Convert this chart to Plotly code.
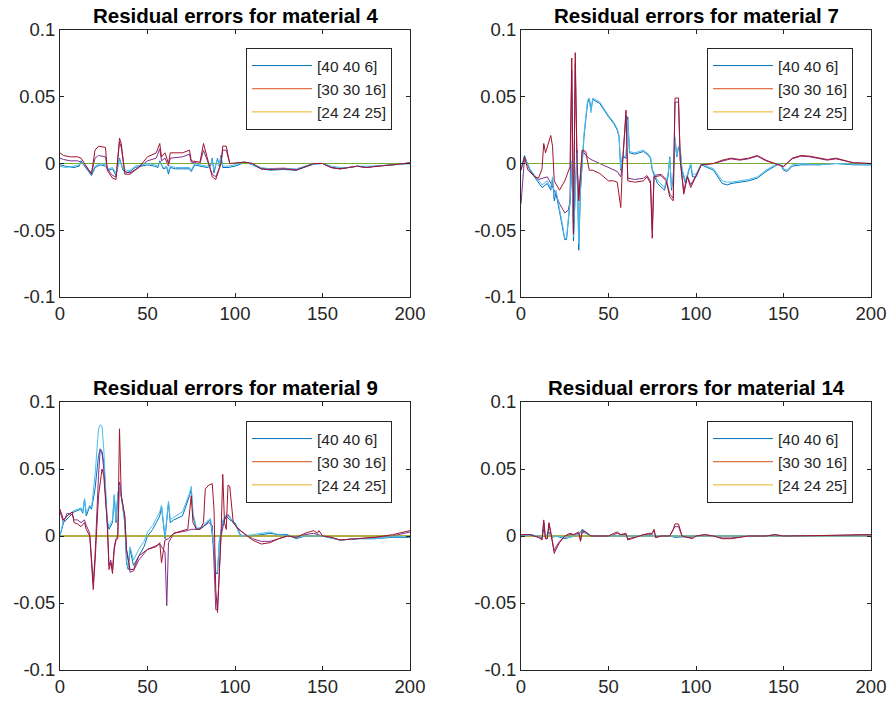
import plotly.graph_objects as go

# ---------------- data ----------------
LEGEND_NAMES = ["[40 40 6]", "[30 30 16]", "[24 24 25]"]
TITLES = ["Residual errors for material 4", "Residual errors for material 7",
          "Residual errors for material 9", "Residual errors for material 14"]
X_TICKS = [0, 50, 100, 150, 200]
Y_TICKS = [-0.1, -0.05, 0, 0.05, 0.1]
Y_TICK_TEXT = ["-0.1", "-0.05", "0", "0.05", "0.1"]

ZERO_X = [0, 200]
ZERO_Y = [0, 0]

# material 4
M4_BLUE = [(0,-0.001),(3,-0.002),(8,-0.003),(11,-0.002),(12,0.002),(14,-0.002),(16,-0.005),(18,-0.009),(20,-0.003),(23,-0.001),(26,-0.002),(28,-0.005),(30,-0.004),(32,-0.009),(34,0.004),(36,-0.005),(38,-0.007),(40,-0.006),(43,-0.003),(46,-0.002),(50,-0.001),(54,-0.002),(56,-0.003),(57,0.002),(59,-0.004),(61,-0.003),(62,-0.008),(63,-0.003),(66,-0.004),(70,-0.004),(74,-0.004),(75,-0.006),(77,-0.001),(80,-0.002),(84,-0.003),(86,-0.002),(87,0.004),(88,-0.007),(89,-0.002),(90,0.004),(91,-0.002),(92,0.006),(93,-0.003),(96,-0.003),(100,-0.002),(104,0.0),(106,0.001),(110,-0.001),(115,-0.004),(120,-0.005),(128,-0.0045),(135,-0.005),(140,-0.003),(145,-0.0005),(150,0.0),(155,-0.003),(160,-0.004),(165,-0.003),(170,-0.002),(175,-0.003),(180,-0.002),(190,-0.001),(200,0.0)]
M4_LBLUE = [(0,-0.002),(3,-0.003),(8,-0.002),(11,-0.001),(12,0.001),(14,-0.001),(16,-0.004),(18,-0.007),(20,-0.002),(23,0.0),(26,-0.001),(28,-0.004),(30,-0.003),(32,-0.007),(34,0.003),(36,-0.004),(38,-0.005),(40,-0.005),(43,-0.002),(46,-0.001),(50,0.0),(54,-0.001),(56,-0.002),(57,0.001),(59,-0.003),(61,-0.002),(62,-0.006),(63,-0.002),(66,-0.003),(70,-0.003),(74,-0.003),(75,-0.005),(77,0.0),(80,-0.001),(84,-0.002),(86,-0.001),(87,0.003),(88,-0.005),(89,-0.001),(90,0.003),(91,-0.001),(92,0.005),(93,-0.002),(96,-0.002),(100,-0.001),(104,0.001),(106,0.001),(110,-0.001),(115,-0.003),(120,-0.004),(128,-0.004),(135,-0.004),(140,-0.002),(145,0.0),(150,0.0),(155,-0.002),(160,-0.003),(165,-0.003),(170,-0.002),(175,-0.002),(180,-0.002),(190,-0.001),(200,0.0)]
M4_PURPLE = [(0,0.004),(2,0.003),(6,0.002),(10,0.002),(12,0.001),(15,-0.003),(18,-0.007),(20,0.004),(22,0.006),(26,0.005),(27,-0.004),(30,-0.009),(32,-0.010),(34,0.016),(35,0.012),(37,-0.006),(40,-0.007),(45,-0.003),(50,0.002),(55,0.004),(57,0.011),(58,0.002),(60,0.004),(62,-0.002),(63,0.004),(70,0.005),(74,0.007),(75,0.001),(80,0.0),(82,0.010),(84,0.003),(87,-0.008),(89,-0.010),(92,0.0),(93,0.010),(95,0.010),(97,0.0),(100,0.0),(105,0.001),(110,0.0),(115,-0.004),(120,-0.004),(128,-0.0035),(135,-0.0045),(140,-0.002),(145,0.0),(150,0.0),(155,-0.003),(160,-0.004),(165,-0.003),(170,-0.002),(175,-0.003),(180,-0.002),(190,-0.001),(200,0.0005)]
M4_RED = [(0,0.008),(2,0.006),(6,0.005),(10,0.005),(12,0.004),(15,-0.0025),(18,-0.008),(20,0.010),(22,0.013),(26,0.012),(27,-0.005),(30,-0.011),(32,-0.012),(34,0.019),(35,0.015),(37,-0.008),(40,-0.008),(45,-0.003),(50,0.005),(55,0.008),(57,0.015),(58,0.005),(60,0.008),(62,0.0),(63,0.008),(70,0.008),(74,0.010),(75,0.002),(80,0.001),(82,0.015),(84,0.005),(87,-0.010),(89,-0.012),(92,0.0),(93,0.013),(95,0.013),(97,0.0),(100,0.0005),(105,0.001),(110,0.0),(115,-0.004),(120,-0.0045),(128,-0.004),(135,-0.005),(140,-0.0025),(145,0.0),(150,0.0),(155,-0.003),(160,-0.004),(165,-0.003),(170,-0.002),(175,-0.003),(180,-0.0025),(190,-0.001),(200,0.0005)]

# material 7
M7_BLUE = [(0,-0.005),(2,0.006),(5,-0.005),(10,-0.015),(12,-0.018),(15,-0.015),(17,-0.020),(18,-0.012),(19,-0.028),(20,-0.022),(22,-0.035),(24,-0.050),(25,-0.057),(26,-0.057),(28,-0.030),(29,0.0),(30,-0.058),(31,-0.020),(32,0.010),(33,-0.065),(34,-0.020),(36,0.020),(38,0.045),(39,0.049),(40,0.040),(41,0.048),(45,0.045),(50,0.035),(53,0.030),(55,0.025),(56,0.020),(57,-0.005),(58,0.005),(60,0.004),(61,0.035),(62,0.008),(65,0.007),(70,0.009),(72,0.007),(74,0.004),(75,-0.005),(78,-0.015),(82,-0.020),(84,-0.010),(85,0.005),(86,-0.020),(87,-0.010),(88,0.018),(89,0.005),(90,0.012),(91,0.010),(92,-0.005),(94,-0.015),(96,-0.005),(97,-0.001),(98,-0.010),(100,-0.010),(103,-0.001),(110,-0.005),(115,-0.015),(118,-0.016),(120,-0.015),(130,-0.013),(135,-0.011),(140,-0.006),(145,-0.002),(148,0.0),(150,-0.005),(152,-0.006),(155,-0.002),(160,-0.001),(170,-0.001),(180,0.0),(190,-0.001),(200,-0.001)]
M7_LBLUE = [(0,-0.004),(2,0.005),(5,-0.004),(10,-0.013),(12,-0.016),(15,-0.013),(17,-0.018),(18,-0.010),(19,-0.025),(20,-0.020),(22,-0.033),(24,-0.048),(25,-0.056),(26,-0.056),(28,-0.028),(29,0.002),(30,-0.055),(31,-0.018),(32,0.008),(33,-0.060),(34,-0.018),(36,0.022),(38,0.047),(39,0.049),(40,0.038),(41,0.049),(45,0.046),(50,0.036),(53,0.031),(55,0.026),(56,0.021),(57,-0.004),(58,0.006),(60,0.005),(61,0.033),(62,0.009),(65,0.008),(70,0.010),(72,0.008),(74,0.005),(75,-0.004),(78,-0.013),(82,-0.018),(84,-0.008),(85,0.004),(86,-0.018),(87,-0.008),(88,0.020),(89,0.006),(90,0.013),(91,0.011),(92,-0.004),(94,-0.013),(96,-0.004),(97,0.0),(98,-0.008),(100,-0.008),(103,0.0),(110,-0.004),(115,-0.013),(118,-0.014),(120,-0.014),(130,-0.012),(135,-0.010),(140,-0.005),(145,-0.001),(148,0.0),(150,-0.004),(152,-0.005),(155,-0.001),(160,0.0),(170,-0.001),(180,0.0),(190,-0.0005),(200,-0.001)]
M7_PURPLE = [(0,-0.030),(2,0.004),(5,-0.004),(8,-0.010),(10,-0.012),(15,-0.010),(18,-0.017),(22,-0.030),(25,-0.037),(27,-0.035),(28,-0.028),(29,0.070),(30,-0.050),(31,0.075),(32,0.0),(33,-0.025),(35,0.010),(37,0.006),(40,0.003),(45,0.0),(50,-0.003),(53,-0.005),(55,-0.006),(57,-0.010),(58,0.0),(60,0.036),(61,-0.011),(65,-0.012),(70,-0.011),(72,-0.009),(74,-0.013),(75,-0.050),(76,-0.009),(80,-0.008),(83,-0.012),(85,-0.023),(87,-0.026),(88,0.046),(90,0.046),(91,0.002),(93,-0.021),(95,-0.009),(97,-0.016),(100,-0.009),(103,-0.001),(110,0.0),(115,0.002),(120,0.0035),(125,0.0025),(130,0.0035),(135,0.0055),(140,0.002),(145,0.0),(150,-0.002),(155,0.0035),(160,0.0055),(165,0.005),(170,0.004),(175,0.0025),(180,0.0035),(185,0.002),(190,0.0005),(200,0.0)]
M7_RED = [(0,-0.005),(2,0.005),(4,-0.005),(8,-0.010),(10,-0.011),(12,-0.004),(13,0.015),(14,0.008),(17,0.021),(18,0.013),(19,-0.013),(22,-0.020),(25,-0.013),(28,-0.0025),(29,0.079),(30,-0.053),(31,0.083),(32,0.0025),(33,-0.028),(35,0.010),(37,0.009),(39,-0.005),(41,-0.005),(45,-0.0075),(50,-0.013),(53,-0.013),(55,-0.014),(57,-0.033),(58,0.0),(60,0.040),(61,-0.013),(65,-0.014),(70,-0.013),(72,-0.010),(74,-0.015),(75,-0.056),(76,-0.010),(80,-0.009),(83,-0.013),(85,-0.025),(87,-0.028),(88,0.049),(90,0.049),(91,0.0025),(93,-0.023),(95,-0.010),(97,-0.018),(100,-0.010),(103,-0.001),(110,0.0),(115,0.0025),(120,0.004),(125,0.003),(130,0.004),(135,0.006),(140,0.0025),(145,0.0),(150,-0.0025),(155,0.004),(160,0.006),(165,0.0055),(170,0.0045),(175,0.003),(180,0.004),(185,0.0025),(190,0.0005),(200,0.0)]

# material 9
M9_BLUE = [(0,0.0),(2,0.010),(5,0.014),(8,0.018),(12,0.020),(13,0.017),(14,0.027),(15,0.015),(17,0.022),(18,0.020),(20,0.035),(22,0.060),(23,0.065),(24,0.063),(25,0.055),(26,0.035),(27,0.010),(28,0.005),(30,0.010),(31,0.030),(32,0.010),(33,0.030),(34,0.040),(35,0.030),(37,0.010),(38,-0.020),(39,-0.025),(40,-0.010),(42,-0.022),(45,-0.015),(48,-0.008),(50,0.0),(53,0.005),(55,0.010),(57,0.015),(58,0.022),(59,0.010),(60,-0.002),(62,0.025),(63,0.010),(65,0.012),(70,0.015),(74,0.030),(75,0.035),(76,0.015),(78,0.005),(80,0.005),(82,0.007),(84,0.010),(86,0.012),(88,-0.010),(89,-0.028),(90,-0.028),(91,-0.005),(93,0.010),(95,0.015),(97,0.012),(100,0.010),(103,0.001),(105,0.0),(110,0.0),(115,0.001),(120,0.002),(125,0.001),(130,0.001),(135,-0.002),(140,0.0),(150,0.0),(160,-0.003),(170,-0.002),(180,-0.002),(190,-0.001),(200,-0.001)]
M9_LBLUE = [(0,0.0),(2,0.012),(5,0.016),(8,0.019),(12,0.021),(13,0.018),(14,0.028),(15,0.017),(17,0.023),(18,0.021),(20,0.045),(22,0.080),(23,0.083),(24,0.082),(25,0.065),(26,0.040),(27,0.012),(28,0.007),(30,0.012),(31,0.031),(32,0.012),(33,0.031),(34,0.038),(35,0.029),(37,0.012),(38,-0.018),(39,-0.024),(40,-0.008),(42,-0.018),(45,-0.010),(48,-0.004),(50,0.003),(53,0.008),(55,0.013),(57,0.018),(58,0.023),(59,0.012),(60,0.0),(62,0.026),(63,0.012),(65,0.014),(70,0.018),(74,0.032),(75,0.037),(76,0.017),(78,0.006),(80,0.006),(82,0.008),(84,0.011),(86,0.013),(88,-0.008),(89,-0.027),(90,-0.027),(91,-0.004),(93,0.012),(95,0.016),(97,0.014),(100,0.009),(103,0.0),(105,0.0),(110,0.001),(115,0.002),(120,0.003),(125,0.001),(130,0.0),(135,-0.001),(140,0.0),(150,0.0),(160,-0.003),(170,-0.002),(180,-0.002),(190,-0.0005),(200,-0.0005)]
M9_PURPLE = [(0,0.018),(2,0.010),(4,0.017),(7,0.016),(8,0.012),(10,0.012),(12,0.010),(14,0.012),(15,0.008),(17,0.002),(19,-0.035),(20,-0.015),(22,0.045),(23,0.065),(24,0.062),(25,0.050),(27,0.010),(28,-0.022),(29,-0.018),(30,-0.025),(31,-0.008),(32,-0.002),(33,0.0),(34,0.040),(35,0.030),(37,0.015),(38,-0.010),(40,-0.027),(42,-0.026),(45,-0.018),(50,-0.010),(55,-0.007),(57,-0.006),(59,-0.010),(60,-0.012),(61,-0.052),(62,-0.005),(65,0.002),(70,0.003),(73,0.004),(75,0.005),(78,0.005),(80,0.006),(83,0.008),(85,0.010),(87,0.008),(88,-0.020),(89,-0.055),(90,-0.055),(91,-0.025),(92,0.0),(94,0.012),(96,0.016),(98,0.012),(100,0.008),(105,0.002),(110,-0.002),(115,-0.004),(120,-0.004),(125,-0.002),(130,0.0),(135,-0.001),(140,0.001),(145,0.002),(150,0.0),(155,-0.001),(160,-0.003),(170,-0.002),(180,-0.001),(190,0.0),(200,0.003)]
M9_RED = [(0,0.020),(2,0.012),(4,0.015),(7,0.018),(8,0.010),(10,0.009),(12,0.007),(14,0.010),(15,0.005),(17,0.0),(19,-0.040),(20,-0.020),(22,0.030),(24,0.050),(25,0.045),(27,0.010),(28,-0.025),(29,-0.020),(30,-0.028),(31,-0.010),(32,-0.003),(33,-0.002),(34,0.080),(35,0.030),(37,0.015),(38,-0.010),(40,-0.025),(42,-0.025),(45,-0.015),(50,-0.010),(55,-0.008),(57,-0.005),(58,-0.020),(59,-0.010),(60,-0.003),(62,-0.002),(65,0.002),(70,0.004),(73,0.005),(75,0.030),(76,0.010),(78,0.005),(80,0.005),(82,0.010),(83,0.035),(85,0.038),(87,0.039),(88,0.020),(89,-0.040),(90,-0.057),(91,-0.030),(92,0.0),(93,0.046),(94,0.010),(95,0.005),(96,0.038),(97,0.037),(99,0.010),(102,0.005),(105,0.002),(110,-0.003),(115,-0.006),(120,-0.005),(125,-0.002),(130,0.0),(135,-0.001),(140,0.002),(145,0.004),(147,0.002),(148,0.004),(150,0.0),(155,-0.001),(160,-0.003),(170,-0.002),(180,-0.001),(190,0.001),(200,0.004)]

# material 14
M14_BLUE = [(0,0.0005),(5,0.001),(10,0.0),(12,-0.001),(13,0.005),(14,-0.001),(16,0.003),(17,0.0),(18,-0.001),(20,0.0),(25,-0.002),(28,-0.001),(30,0.0),(33,0.001),(35,0.005),(37,0.003),(40,0.0),(45,0.0),(50,0.0),(55,0.0),(60,0.0),(65,0.0),(70,0.0),(75,0.001),(77,-0.001),(80,0.0),(85,0.0),(88,-0.001),(90,-0.001),(95,-0.0005),(100,0.0),(110,0.0),(120,0.0),(130,0.0),(150,0.0),(170,0.0),(200,0.0005)]
M14_LBLUE = [(0,0.0),(5,0.0005),(10,0.0),(12,-0.0005),(13,0.003),(14,0.0),(16,0.002),(17,0.0),(18,-0.001),(20,0.0),(25,-0.001),(28,-0.001),(30,0.0),(33,0.001),(35,0.004),(37,0.002),(40,0.0),(45,0.0),(50,0.0),(55,0.0),(60,0.0),(65,0.0),(70,0.0),(75,0.0005),(77,0.0),(80,0.0),(85,0.0),(88,0.0),(90,0.0),(95,0.0),(100,0.0),(110,0.0),(120,0.0),(130,0.0),(150,0.0),(170,0.0),(200,0.0)]
M14_PURPLE = [(0,0.0005),(5,0.001),(10,-0.001),(12,-0.002),(13,0.010),(14,-0.002),(15,-0.002),(16,0.009),(17,0.002),(18,-0.004),(19,-0.011),(20,-0.008),(22,-0.004),(25,0.0),(28,0.001),(30,0.001),(33,0.002),(34,-0.003),(35,0.003),(37,0.002),(40,0.0),(45,0.0),(50,0.0),(53,0.001),(55,0.002),(57,0.001),(60,0.001),(61,-0.002),(65,-0.001),(70,0.001),(73,0.001),(75,0.002),(76,0.004),(77,-0.001),(80,0.0),(85,0.0),(87,0.004),(88,0.007),(90,0.007),(92,0.0),(95,-0.001),(98,-0.001),(100,0.0),(105,0.001),(110,0.0),(115,-0.0015),(120,-0.0015),(125,-0.001),(130,0.0),(140,0.0),(145,0.001),(150,0.0),(160,0.0),(180,0.0005),(200,0.001)]
M14_RED = [(0,0.001),(5,0.001),(10,-0.001),(12,-0.003),(13,0.012),(14,-0.002),(15,-0.002),(16,0.010),(17,0.003),(18,-0.005),(19,-0.013),(20,-0.010),(22,-0.005),(25,0.0),(28,0.002),(30,0.001),(33,0.003),(34,-0.004),(35,0.004),(37,0.003),(40,0.0),(45,0.0),(50,0.0),(53,0.002),(55,0.003),(57,0.001),(60,0.002),(61,-0.003),(65,-0.001),(70,0.001),(73,0.002),(75,0.002),(76,0.005),(77,-0.001),(80,0.0),(85,0.0),(87,0.005),(88,0.009),(90,0.009),(92,0.0),(95,-0.001),(98,-0.002),(100,0.0),(105,0.001),(110,0.0),(115,-0.002),(120,-0.002),(125,-0.001),(130,0.0),(140,0.0),(145,0.001),(150,0.0),(160,0.0),(180,0.0005),(200,0.001)]

PANELS = [
    (M4_BLUE, M4_PURPLE, M4_LBLUE, M4_RED),
    (M7_BLUE, M7_PURPLE, M7_LBLUE, M7_RED),
    (M9_BLUE, M9_PURPLE, M9_LBLUE, M9_RED),
    (M14_BLUE, M14_PURPLE, M14_LBLUE, M14_RED),
]

# MATLAB default colour order
C_BLUE, C_ORANGE, C_YELLOW, C_PURPLE = "#0072BD", "#D95319", "#EDB120", "#7E2F8E"
C_GREEN, C_LBLUE, C_DRED = "#77AC30", "#4DBEEE", "#A2142F"

# ---------------- layout geometry ----------------
W, H = 888, 702
X_DOMAINS = [(60 / W, 410 / W), (521 / W, 871 / W)]
Y_DOMAINS = [(1 - 297 / H, 1 - 30 / H), (1 - 670 / H, 1 - 402 / H)]
FONT = "Helvetica, Liberation Sans, Arial, sans-serif"
AX_COLOR = "#262626"


def unzip(pts):
    return [p[0] for p in pts], [p[1] for p in pts]


fig = go.Figure()
layout_extra = {}
annotations = []

for i, (blue, purple, lblue, dred) in enumerate(PANELS):
    row, col = divmod(i, 2)
    n = i + 1
    xa = "x" if n == 1 else f"x{n}"
    ya = "y" if n == 1 else f"y{n}"
    lg = "legend" if n == 1 else f"legend{n}"

    bx, by = unzip(blue)
    px, py = unzip(purple)
    lx, ly = unzip(lblue)
    rx, ry = unzip(dred)
    series = [
        (bx, by, C_BLUE, LEGEND_NAMES[0], True),
        (ZERO_X, ZERO_Y, C_ORANGE, LEGEND_NAMES[1], True),
        (ZERO_X, ZERO_Y, C_YELLOW, LEGEND_NAMES[2], True),
        (px, py, C_PURPLE, "s4", False),
        (ZERO_X, ZERO_Y, C_GREEN, "s5", False),
        (lx, ly, C_LBLUE, "s6", False),
        (rx, ry, C_DRED, "s7", False),
    ]
    for k, (sx, sy, c, name, show) in enumerate(series):
        fig.add_trace(go.Scatter(
            x=sx, y=sy, mode="lines", name=name, showlegend=show,
            legendgroup=f"p{n}s{k}",
            line=dict(color=c, width=1), xaxis=xa, yaxis=ya, legend=lg,
            hoverinfo="skip"))

    axis_common = dict(
        showline=True, linecolor=AX_COLOR, linewidth=1, mirror="ticks",
        ticks="inside", ticklen=4, tickcolor=AX_COLOR, tickwidth=1,
        showgrid=False, zeroline=False, automargin=False,
        tickfont=dict(family=FONT, size=18.5, color=AX_COLOR),
    )
    layout_extra["xaxis" if n == 1 else f"xaxis{n}"] = dict(
        axis_common, domain=X_DOMAINS[col], range=[0, 200],
        tickvals=X_TICKS, ticktext=[str(v) for v in X_TICKS],
        anchor=ya)
    layout_extra["yaxis" if n == 1 else f"yaxis{n}"] = dict(
        axis_common, domain=Y_DOMAINS[row], range=[-0.1, 0.1],
        tickvals=Y_TICKS, ticktext=Y_TICK_TEXT, anchor=xa)

    right_px = 392 if col == 0 else 853
    top_px = 48 if row == 0 else 421
    layout_extra[lg] = dict(
        x=right_px / W, y=1 - top_px / H, xanchor="right", yanchor="top",
        bgcolor="white", bordercolor=AX_COLOR, borderwidth=1,
        font=dict(family=FONT, size=15.5, color=AX_COLOR),
        itemwidth=60, tracegroupgap=0)

    x0, x1 = X_DOMAINS[col]
    annotations.append(dict(
        text=f"<b>{TITLES[i]}</b>", x=(x0 + x1) / 2, y=Y_DOMAINS[row][1],
        xref="paper", yref="paper", xanchor="center", yanchor="bottom",
        yshift=1, showarrow=False,
        font=dict(family=FONT, size=20.5, color="black")))

fig.update_layout(
    width=W, height=H, margin=dict(l=0, r=0, t=0, b=0, autoexpand=False),
    paper_bgcolor="white", plot_bgcolor="white",
    annotations=annotations, **layout_extra)

fig.write_html("out.html")
